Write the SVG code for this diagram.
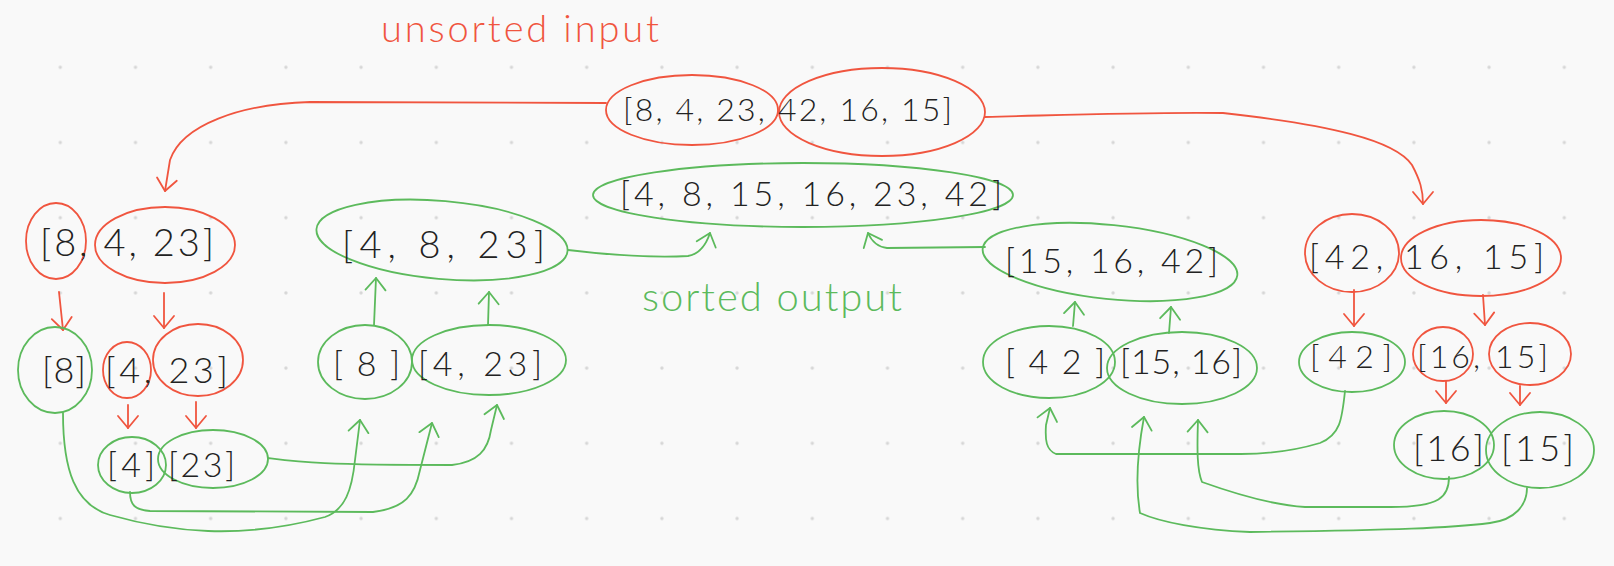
<svg xmlns="http://www.w3.org/2000/svg" width="1614" height="566" viewBox="0 0 1614 566">
<style>
.red{fill:none;stroke:#f0553f;stroke-width:1.8;stroke-linecap:round;stroke-linejoin:round}
.grn{fill:none;stroke:#5cba5c;stroke-width:1.8;stroke-linecap:round;stroke-linejoin:round}
.num{font-family:Lato,"Liberation Sans",sans-serif;font-weight:300;fill:#222}
.lbl{font-family:Lato,"Liberation Sans",sans-serif;font-weight:300}
</style>
<defs>
<pattern id="dots" x="22.7" y="29.7" width="75.2" height="75.2" patternUnits="userSpaceOnUse">
<circle cx="37.6" cy="37.6" r="1.7" fill="#d6d6d6"/>
</pattern>
<marker id="ar" markerUnits="userSpaceOnUse" markerWidth="30" markerHeight="30" viewBox="-15 -15 30 30" refX="0" refY="0" orient="auto">
<path d="M-12,-10 L0,0 L-12,10" fill="none" stroke="#f0553f" stroke-width="1.8" stroke-linecap="round" stroke-linejoin="round"/>
</marker>
<marker id="ag" markerUnits="userSpaceOnUse" markerWidth="30" markerHeight="30" viewBox="-15 -15 30 30" refX="0" refY="0" orient="auto">
<path d="M-12,-10 L0,0 L-12,10" fill="none" stroke="#5cba5c" stroke-width="1.8" stroke-linecap="round" stroke-linejoin="round"/>
</marker>
</defs>
<rect width="1614" height="566" fill="#f9f9f9"/>
<rect width="1614" height="566" fill="url(#dots)"/>

<g id="connectors">
<g class="red">
<path d="M606,103 L310,102 C240,104 182,125 170,160 L165,191" marker-end="url(#ar)"/>
<path d="M985,117 C1100,114 1150,112 1223,113 C1330,125 1395,140 1412,165 C1420,180 1423,190 1423,204" marker-end="url(#ar)"/>
<path d="M59,292 L63,330" marker-end="url(#ar)"/>
<path d="M164,293 L164,328" marker-end="url(#ar)"/>
<path d="M128,405 L128,428" marker-end="url(#ar)"/>
<path d="M196,402 L196,428" marker-end="url(#ar)"/>
<path d="M1354,290 L1354,326" marker-end="url(#ar)"/>
<path d="M1483,295 L1485,325" marker-end="url(#ar)"/>
<path d="M1446,381 L1446,403" marker-end="url(#ar)"/>
<path d="M1520,386 L1520,405" marker-end="url(#ar)"/>
</g>
<g class="grn">
<path d="M568,250 C610,255 650,258 688,256 C700,254 706,245 710,233" marker-end="url(#ag)"/>
<path d="M985,247 L887,248 C878,247 872,242 868,233" marker-end="url(#ag)"/>
<path d="M374,325 L376,278" marker-end="url(#ag)"/>
<path d="M488,325 L489,292" marker-end="url(#ag)"/>
<path d="M1073,326 L1075,302" marker-end="url(#ag)"/>
<path d="M1169,333 L1171,307" marker-end="url(#ag)"/>
<path d="M63,413 C63,470 75,505 110,515 C170,532 240,540 325,517 C345,510 352,490 355,460 L360,420" marker-end="url(#ag)"/>
<path d="M130,492 C130,505 135,510 150,511 L373,512 C405,508 415,495 420,470 L432,423" marker-end="url(#ag)"/>
<path d="M268,458 C300,462 320,465 452,465 C478,462 488,450 491,430 L497,405" marker-end="url(#ag)"/>
<path d="M1345,391 C1342,420 1340,435 1320,443 C1290,452 1260,454 1241,454 L1056,454 C1046,450 1045,440 1046,425 L1050,408" marker-end="url(#ag)"/>
<path d="M1449,477 C1449,497 1440,507 1391,507 L1305,507 C1270,505 1230,492 1202,482 C1197,470 1197,450 1198,420" marker-end="url(#ag)"/>
<path d="M1527,488 C1527,505 1515,520 1490,523 C1450,528 1400,530 1250,532 C1200,530 1160,522 1140,513 C1136,490 1136,460 1144,417" marker-end="url(#ag)"/>
</g>
</g>

<g id="label-unsorted"><text class="lbl" x="381" y="42" font-size="38" fill="#f0553f" textLength="278" lengthAdjust="spacing">unsorted input</text></g>
<g id="label-sorted"><text class="lbl" x="642" y="311" font-size="40" fill="#5cba5c" textLength="260" lengthAdjust="spacing">sorted output</text></g>

<g id="node-input">
<ellipse class="red" cx="692" cy="110" rx="86" ry="35"/>
<ellipse class="red" cx="882" cy="112" rx="103" ry="44"/>
<text class="num" x="623" y="121" font-size="32" textLength="329" lengthAdjust="spacing">[8, 4, 23, 42, 16, 15]</text>
</g>

<g id="node-output">
<ellipse class="grn" cx="803" cy="195" rx="210" ry="32"/>
<text class="num" x="620" y="206" font-size="34" textLength="382" lengthAdjust="spacing">[4, 8, 15, 16, 23, 42]</text>
</g>

<g id="node-left-l1">
<ellipse class="red" cx="56" cy="241" rx="30" ry="38"/>
<ellipse class="red" cx="165" cy="245" rx="70" ry="38"/>
<text class="num" x="40" y="256" font-size="38" textLength="174" lengthAdjust="spacing">[8, 4, 23]</text>
</g>

<g id="node-left-l2">
<ellipse class="grn" cx="55" cy="370" rx="37" ry="43"/>
<ellipse class="red" cx="127" cy="370" rx="24" ry="28"/>
<ellipse class="red" cx="198" cy="360" rx="45" ry="36"/>
<text class="num" x="42" y="383" font-size="36" textLength="44" lengthAdjust="spacing">[8]</text>
<text class="num" x="105" y="383" font-size="36" textLength="123" lengthAdjust="spacing">[4, 23]</text>
</g>

<g id="node-left-l3">
<ellipse class="grn" cx="132" cy="465" rx="34" ry="28"/>
<ellipse class="grn" cx="213" cy="459" rx="55" ry="29"/>
<text class="num" x="107" y="477" font-size="34" textLength="48" lengthAdjust="spacing">[4]</text>
<text class="num" x="168" y="477" font-size="34" textLength="67" lengthAdjust="spacing">[23]</text>
</g>

<g id="node-mid-8">
<ellipse class="grn" cx="365" cy="362" rx="47" ry="37"/>
<text class="num" x="333" y="376" font-size="34" textLength="67" lengthAdjust="spacing">[8]</text>
</g>
<g id="node-mid-4-23">
<ellipse class="grn" cx="489" cy="360" rx="77" ry="35"/>
<text class="num" x="418" y="376" font-size="34" textLength="124" lengthAdjust="spacing">[4, 23]</text>
</g>
<g id="node-mid-4-8-23">
<ellipse class="grn" cx="442" cy="240" rx="126" ry="39" transform="rotate(5 442 240)"/>
<text class="num" x="342" y="258" font-size="38" textLength="203" lengthAdjust="spacing">[4, 8, 23]</text>
</g>

<g id="node-right-15-16-42">
<ellipse class="grn" cx="1110" cy="262" rx="128" ry="37" transform="rotate(6 1110 262)"/>
<text class="num" x="1005" y="273" font-size="34" textLength="213" lengthAdjust="spacing">[15, 16, 42]</text>
</g>
<g id="node-right-42">
<ellipse class="grn" cx="1049" cy="362" rx="66" ry="36"/>
<text class="num" x="1005" y="374" font-size="34" textLength="100" lengthAdjust="spacing">[42]</text>
</g>
<g id="node-right-15-16">
<ellipse class="grn" cx="1182" cy="368" rx="75" ry="36"/>
<text class="num" x="1120" y="374" font-size="34" textLength="122" lengthAdjust="spacing">[15, 16]</text>
</g>

<g id="node-right-l1">
<ellipse class="red" cx="1352" cy="253" rx="47" ry="39"/>
<ellipse class="red" cx="1481" cy="258" rx="80" ry="38"/>
<text class="num" x="1309" y="269" font-size="34" textLength="235" lengthAdjust="spacing">[42, 16, 15]</text>
</g>

<g id="node-right-l2">
<ellipse class="grn" cx="1352" cy="362" rx="53" ry="30"/>
<ellipse class="red" cx="1443" cy="354" rx="30" ry="27"/>
<ellipse class="red" cx="1530" cy="354" rx="41" ry="31"/>
<text class="num" x="1310" y="368" font-size="32" textLength="82" lengthAdjust="spacing">[42]</text>
<text class="num" x="1417" y="368" font-size="32" textLength="131" lengthAdjust="spacing">[16, 15]</text>
</g>

<g id="node-right-l3">
<ellipse class="grn" cx="1444" cy="445" rx="50" ry="34"/>
<ellipse class="grn" cx="1540" cy="450" rx="54" ry="38"/>
<text class="num" x="1413" y="461" font-size="36" textLength="71" lengthAdjust="spacing">[16]</text>
<text class="num" x="1501" y="461" font-size="36" textLength="73" lengthAdjust="spacing">[15]</text>
</g>
</svg>
